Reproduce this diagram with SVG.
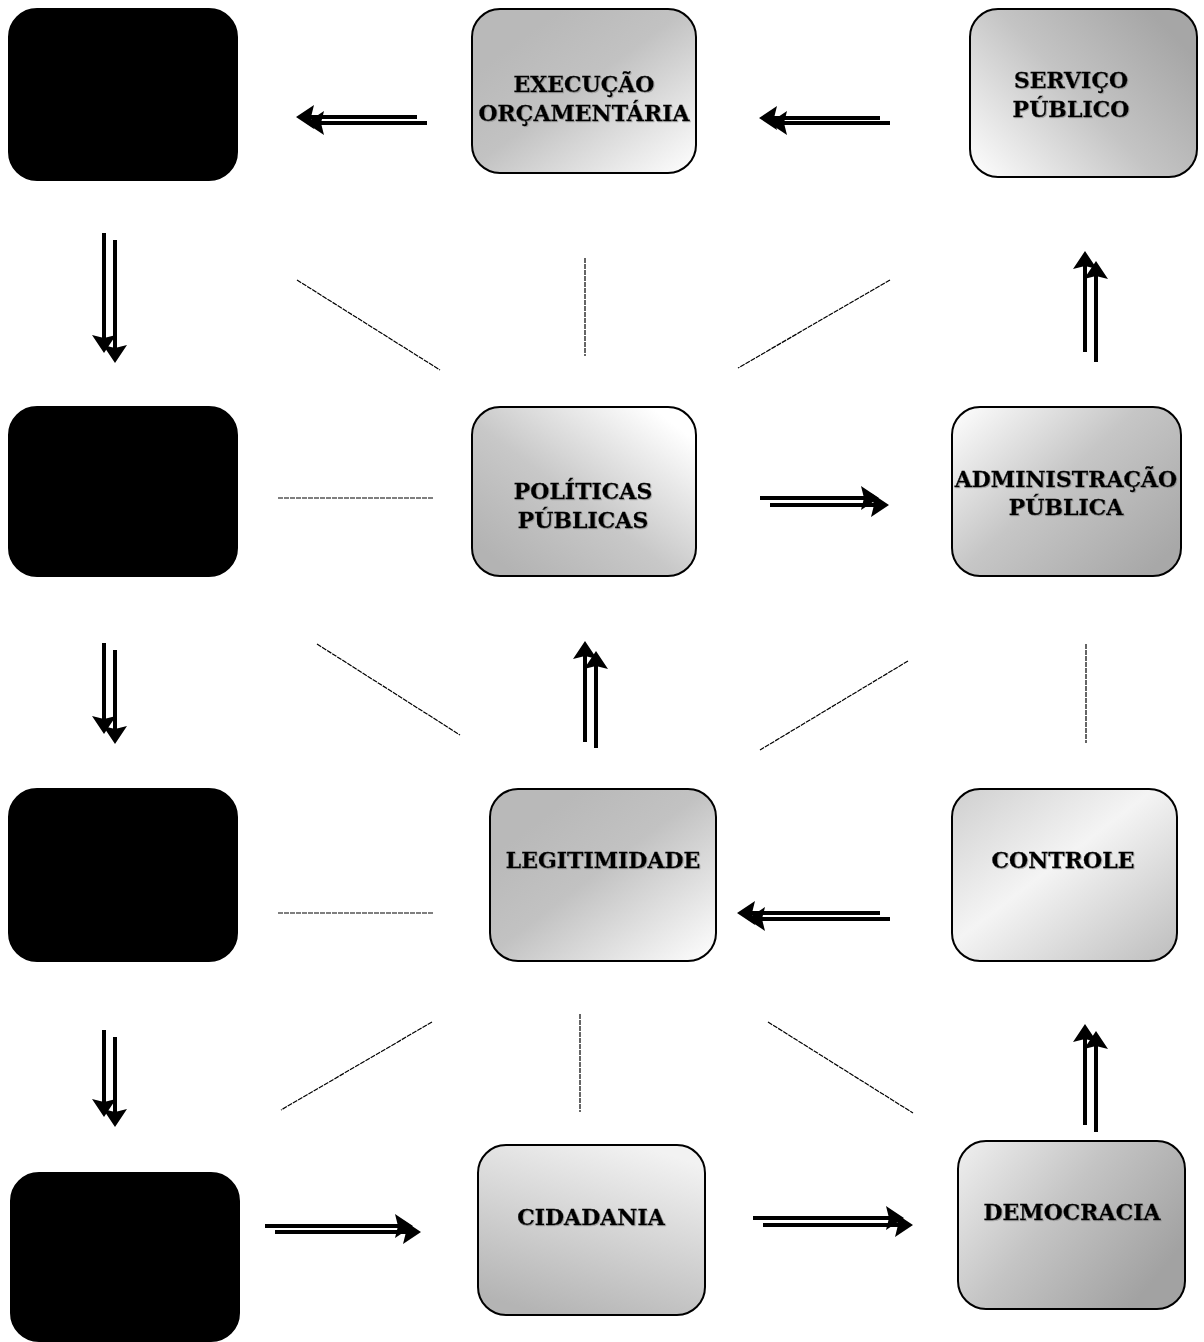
<svg xmlns="http://www.w3.org/2000/svg" width="1204" height="1342" viewBox="0 0 1204 1342">
<style>
.blk{fill:#000;stroke:#000;stroke-width:2}
.box{stroke:#000;stroke-width:2}
.lbl{font-family:"DejaVu Serif","Liberation Serif",serif;font-weight:bold;font-size:22px;fill:#000;stroke:#000;stroke-width:0.3;text-anchor:middle;filter:url(#sh)}
.dl{stroke:#000;stroke-width:1.2;stroke-dasharray:5 1;fill:none}
.ar{stroke:#000;stroke-width:4;fill:none;marker-end:url(#ah)}
</style>
<defs>
<filter id="sh" x="-10%" y="-30%" width="120%" height="160%">
<feDropShadow dx="1" dy="1" stdDeviation="0.3" flood-color="#777" flood-opacity="0.5"/>
</filter>
<marker id="ah" markerUnits="userSpaceOnUse" markerWidth="18" markerHeight="24" viewBox="0 0 18 24" refX="3" refY="12" orient="auto">
<path d="M0,0 L18,12 L0,24 L3,12 z" fill="#000"/>
</marker>
<linearGradient id="gTLdark" x1="0.2" y1="0.2" x2="1" y2="1">
<stop offset="0" stop-color="#b9b9b9"/><stop offset="0.35" stop-color="#c2c2c2"/><stop offset="1" stop-color="#ffffff"/>
</linearGradient>
<linearGradient id="gServ" x1="0" y1="1" x2="1" y2="0.3">
<stop offset="0" stop-color="#ffffff"/><stop offset="0.55" stop-color="#c4c4c4"/><stop offset="1" stop-color="#a6a6a6"/>
</linearGradient>
<linearGradient id="gPol" x1="0.1" y1="0.9" x2="0.9" y2="0.1">
<stop offset="0" stop-color="#b3b3b3"/><stop offset="0.45" stop-color="#c8c8c8"/><stop offset="1" stop-color="#ffffff"/>
</linearGradient>
<linearGradient id="gAdm" x1="0" y1="0" x2="1" y2="0.8">
<stop offset="0" stop-color="#ffffff"/><stop offset="0.5" stop-color="#c6c6c6"/><stop offset="1" stop-color="#a8a8a8"/>
</linearGradient>
<linearGradient id="gCtl" x1="0" y1="0" x2="1" y2="1">
<stop offset="0" stop-color="#cfcfcf"/><stop offset="0.45" stop-color="#f4f4f4"/><stop offset="1" stop-color="#bdbdbd"/>
</linearGradient>
<linearGradient id="gCid" x1="0.7" y1="0" x2="0.3" y2="1">
<stop offset="0" stop-color="#f2f2f2"/><stop offset="1" stop-color="#b4b4b4"/>
</linearGradient>
<linearGradient id="gDem" x1="0" y1="0" x2="1" y2="0.6">
<stop offset="0" stop-color="#f0f0f0"/><stop offset="0.5" stop-color="#c4c4c4"/><stop offset="1" stop-color="#a2a2a2"/>
</linearGradient>
</defs>
<rect width="1204" height="1342" fill="#fff"/>

<g id="black1"><rect class="blk" x="9" y="9" width="228" height="171" rx="28"/></g>
<g id="black2"><rect class="blk" x="9" y="407" width="228" height="169" rx="28"/></g>
<g id="black3"><rect class="blk" x="9" y="789" width="228" height="172" rx="28"/></g>
<g id="black4"><rect class="blk" x="11" y="1173" width="228" height="168" rx="28"/></g>

<g id="execucao"><rect class="box" fill="url(#gTLdark)" x="472" y="9" width="224" height="164" rx="28"/>
<text class="lbl" x="584" y="92">EXECUÇÃO</text><text class="lbl" x="584" y="121">ORÇAMENTÁRIA</text></g>
<g id="servico"><rect class="box" fill="url(#gServ)" x="970" y="9" width="227" height="168" rx="28"/>
<text class="lbl" x="1071" y="88">SERVIÇO</text><text class="lbl" x="1071" y="117">PÚBLICO</text></g>
<g id="politicas"><rect class="box" fill="url(#gPol)" x="472" y="407" width="224" height="169" rx="28"/>
<text class="lbl" x="583" y="499">POLÍTICAS</text><text class="lbl" x="583" y="528">PÚBLICAS</text></g>
<g id="administracao"><rect class="box" fill="url(#gAdm)" x="952" y="407" width="229" height="169" rx="28"/>
<text class="lbl" x="1066" y="487">ADMINISTRAÇÃO</text><text class="lbl" x="1066" y="515">PÚBLICA</text></g>
<g id="legitimidade"><rect class="box" fill="url(#gTLdark)" x="490" y="789" width="226" height="172" rx="28"/>
<text class="lbl" x="603" y="868">LEGITIMIDADE</text></g>
<g id="controle"><rect class="box" fill="url(#gCtl)" x="952" y="789" width="225" height="172" rx="28"/>
<text class="lbl" x="1063" y="868">CONTROLE</text></g>
<g id="cidadania"><rect class="box" fill="url(#gCid)" x="478" y="1145" width="227" height="170" rx="28"/>
<text class="lbl" x="591" y="1225">CIDADANIA</text></g>
<g id="democracia"><rect class="box" fill="url(#gDem)" x="958" y="1141" width="227" height="168" rx="28"/>
<text class="lbl" x="1072" y="1220">DEMOCRACIA</text></g>

<g id="connectors">
<path class="ar" d="M417,117 H311"/><path class="ar" d="M427,123 H321"/>
<path class="ar" d="M880,118 H774"/><path class="ar" d="M890,123 H784"/>
<path class="ar" d="M104,233 V338"/><path class="ar" d="M115,240 V348"/>
<path class="ar" d="M104,643 V719"/><path class="ar" d="M115,650 V729"/>
<path class="ar" d="M104,1030 V1102"/><path class="ar" d="M115,1037 V1112"/>
<path class="ar" d="M585,742 V656"/><path class="ar" d="M596,748 V666"/>
<path class="ar" d="M760,498 H864"/><path class="ar" d="M770,505 H874"/>
<path class="ar" d="M1085,352 V266"/><path class="ar" d="M1096,362 V276"/>
<path class="ar" d="M880,913 H752"/><path class="ar" d="M890,919 H762"/>
<path class="ar" d="M1085,1125 V1039"/><path class="ar" d="M1096,1132 V1046"/>
<path class="ar" d="M265,1226 H398"/><path class="ar" d="M275,1232 H406"/>
<path class="ar" d="M753,1218 H889"/><path class="ar" d="M763,1225 H898"/>

<line class="dl" x1="297" y1="280" x2="440" y2="370"/>
<line class="dl" x1="585" y1="258" x2="585" y2="356"/>
<line class="dl" x1="890" y1="280" x2="738" y2="368"/>
<line class="dl" x1="278" y1="498" x2="434" y2="498"/>
<line class="dl" x1="317" y1="644" x2="460" y2="735"/>
<line class="dl" x1="908" y1="661" x2="760" y2="750"/>
<line class="dl" x1="1086" y1="644" x2="1086" y2="743"/>
<line class="dl" x1="278" y1="913" x2="434" y2="913"/>
<line class="dl" x1="432" y1="1022" x2="281" y2="1110"/>
<line class="dl" x1="580" y1="1014" x2="580" y2="1112"/>
<line class="dl" x1="768" y1="1022" x2="913" y2="1113"/>
</g>
</svg>
